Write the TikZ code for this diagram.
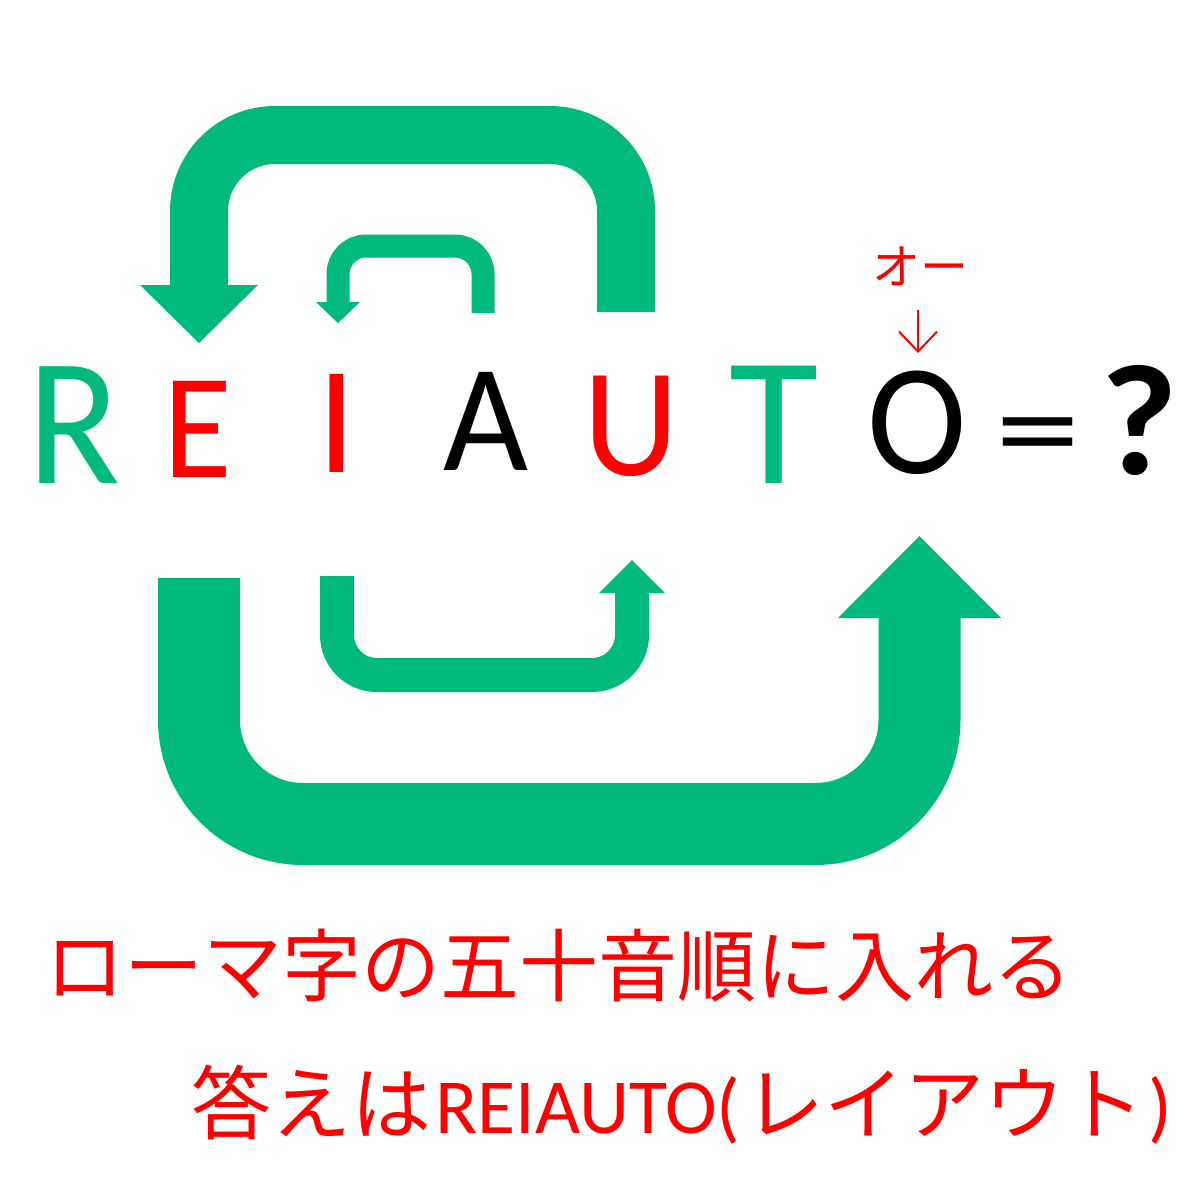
\documentclass[tikz,border=0pt]{standalone}
\usepackage{fontspec}
\setmainfont{Carlito}
\newfontfamily\cjk{Noto Sans CJK JP}
\usetikzlibrary{arrows.meta}
\definecolor{agreen}{RGB}{0,185,124}
\definecolor{ared}{RGB}{255,0,0}
\begin{document}
\begin{tikzpicture}[x=1pt,y=-1pt,
  letter/.style={inner sep=0pt, anchor=base},
  band/.style={draw=agreen, line cap=butt, line join=round},
  headfill/.style={fill=agreen},
  jtext/.style={inner sep=0pt, anchor=base west, text=ared}]
\useasboundingbox[fill=white] (0,0) rectangle (1200,1200);

% ---- letters ----
\node[letter, text=agreen, font=\fontsize{182}{182}\selectfont] (R) at (74,483) {\scalebox{0.94}[1]{R}};
\node[letter, text=ared,   font=\fontsize{150}{150}\selectfont] (E) at (198,477) {\scalebox{0.94}[1]{E}};
\node[letter, text=ared,   font=\fontsize{153}{153}\selectfont] (I) at (337,472) {I};
\node[letter, text=black,  font=\fontsize{153}{153}\selectfont] (A) at (486,470) {\scalebox{0.96}[1]{A}};
\node[letter, text=ared,   font=\fontsize{155}{155}\selectfont] (U) at (631,475) {\scalebox{0.96}[1]{U}};
\node[letter, text=agreen, font=\fontsize{183}{183}\selectfont] (T) at (774,483) {T};
\node[letter, text=black,  font=\fontsize{158}{158}\selectfont] (O) at (917,473) {\scalebox{0.95}[1]{O}};
\node[letter, text=black,  font=\fontsize{150}{150}\selectfont] (eq) at (1038,472) {\scalebox{1.14}[0.85]{=}};
\node[letter, text=black,  font=\bfseries\fontsize{158}{158}\selectfont] (q) at (1139,474) {\scalebox{1.06}[1]{?}};

% ---- small label ----
\node[inner sep=0pt, text=ared, font=\cjk\fontsize{48}{48}\selectfont] (oo) at (920,266) {オー};
\coordinate (ar1) at (918,310);
\coordinate (ar2) at (918,353);
\draw[ared, line width=2pt, -{Straight Barb[length=20pt,width=38pt]}] (ar1) -- (ar2);

% ---- top big arrow ----
\coordinate (tb1) at (626,312);
\coordinate (tb2) at (199,286);
\draw[band, line width=58pt, rounded corners=76pt] (tb1) -- (626,135) -- (199,135) -- (tb2);
\fill[headfill] (140,285) -- (258,285) -- (199,343) -- cycle;

% ---- top small arrow ----
\coordinate (ts1) at (483,313);
\coordinate (ts2) at (338,303);
\draw[band, line width=23pt, rounded corners=28pt] (ts1) -- (483,246) -- (338,246) -- (ts2);
\fill[headfill] (316,302) -- (360,302) -- (338,323) -- cycle;

% ---- bottom big arrow ----
\coordinate (bb1) at (199,578);
\coordinate (bb2) at (919.5,617);
\draw[band, line width=82pt, rounded corners=104pt] (bb1) -- (199,824) -- (919.5,824) -- (bb2);
\fill[headfill] (838,618) -- (1001,618) -- (919.5,536) -- cycle;

% ---- bottom small arrow ----
\coordinate (bs1) at (337,576);
\coordinate (bs2) at (632,592);
\draw[band, line width=34pt, rounded corners=40pt] (bs1) -- (337,675) -- (632,675) -- (bs2);
\fill[headfill] (599,593) -- (665,593) -- (632,560) -- cycle;

% ---- bottom texts ----
\node[jtext, font=\cjk\fontsize{79}{79}\selectfont] (l1) at (45,995) {ローマ字の五十音順に入れる};
\node[jtext, font=\fontsize{78}{78}\selectfont] (l2) at (191,1133) {{\cjk\fontsize{80}{80}\selectfont 答えは}\hspace{4pt}REIAUTO(\hspace{4pt}{\cjk\fontsize{80}{80}\selectfont レイアウト}\hspace{4pt})};
\end{tikzpicture}
\end{document}
